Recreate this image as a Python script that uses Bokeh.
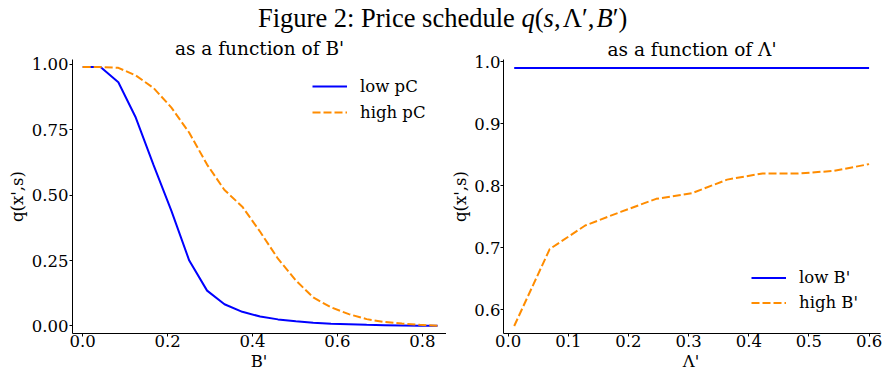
from bokeh.plotting import figure
from bokeh.layouts import column, row
from bokeh.models import Range1d, FixedTicker, PrintfTickFormatter, Div
from bokeh.embed import file_html
from bokeh.resources import INLINE

# ---------------- data ----------------
b_prime = [0.0, 0.042, 0.084, 0.125, 0.167, 0.209, 0.251, 0.293, 0.334, 0.376, 0.418,
           0.460, 0.502, 0.543, 0.585, 0.627, 0.669, 0.711, 0.752, 0.794, 0.836]
q_low_pC = [0.99, 0.99, 0.932, 0.797, 0.615, 0.44, 0.25, 0.135, 0.083, 0.054, 0.036,
            0.025, 0.018, 0.012, 0.008, 0.006, 0.004, 0.003, 0.002, 0.001, 0.0005]
q_high_pC = [0.99, 0.99, 0.987, 0.958, 0.91, 0.835, 0.739, 0.617, 0.52, 0.456, 0.36,
             0.257, 0.174, 0.109, 0.071, 0.045, 0.026, 0.015, 0.009, 0.004, 0.001]

lam_prime = [0.01, 0.069, 0.128, 0.187, 0.246, 0.305, 0.364, 0.423, 0.482, 0.541, 0.600]
q_low_B = [0.99, 0.99, 0.99, 0.99, 0.99, 0.99, 0.99, 0.99, 0.99, 0.99, 0.99]
q_high_B = [0.574, 0.698, 0.736, 0.758, 0.779, 0.788, 0.810, 0.820, 0.820, 0.824, 0.835]

left_xticks = [0.0, 0.2, 0.4, 0.6, 0.8]
left_yticks = [0.0, 0.25, 0.5, 0.75, 1.0]
right_xticks = [0.0, 0.1, 0.2, 0.3, 0.4, 0.5, 0.6]
right_yticks = [0.6, 0.7, 0.8, 0.9, 1.0]

left_xlabel = "B'"
right_xlabel = "Λ'"

# ---------------- style ----------------
SERIF = "DejaVu Serif"
TICK_FS = "16.5px"
SUB_FS = "18.5px"
BLUE = "#0000ff"
ORANGE = "#ff8c00"


def style(p, xt, yt, xfmt, yfmt, ylabel, title, title_standoff, y_lab_standoff, y_lab_pad):
    p.outline_line_color = None
    p.grid.visible = False
    p.xaxis.ticker = FixedTicker(ticks=xt)
    p.yaxis.ticker = FixedTicker(ticks=yt)
    p.xaxis.formatter = PrintfTickFormatter(format=xfmt)
    p.yaxis.formatter = PrintfTickFormatter(format=yfmt)
    for ax in (p.xaxis[0], p.yaxis[0]):
        ax.minor_tick_line_color = None
        ax.major_tick_in = 0
        ax.axis_line_color = "black"
        ax.axis_line_width = 1
        ax.major_tick_line_color = "black"
        ax.major_label_text_font = SERIF
        ax.major_label_text_font_size = TICK_FS
        ax.major_label_text_color = "black"
        ax.axis_label_text_font = SERIF
        ax.axis_label_text_font_size = TICK_FS
        ax.axis_label_text_font_style = "normal"
        ax.axis_label_text_color = "black"
    p.yaxis.axis_label = ylabel
    p.xaxis.major_tick_out = 3
    p.xaxis.major_label_standoff = -2
    p.yaxis.major_tick_out = 3
    p.yaxis.major_label_standoff = y_lab_pad
    p.yaxis.axis_label_standoff = y_lab_standoff
    p.title.text = title
    p.title.align = "center"
    p.title.text_font = SERIF
    p.title.text_font_size = SUB_FS
    p.title.text_font_style = "normal"
    p.title.text_color = "black"
    p.title.standoff = title_standoff


# ---------------- main title ----------------
title_html = (
    '<div style="position:relative;width:884px;height:34px;">'
    '<div style="position:absolute;left:258px;top:5px;white-space:nowrap;'
    "font-family:'Liberation Serif',serif;font-size:26.5px;line-height:1;color:black;\">"
    'Figure 2: Price schedule <i>q</i>(<i>s</i>,&#8202;Λ′,&#8202;<i>B</i>′)'
    '</div></div>'
)
t = Div(text=title_html, width=884, height=34, margin=0)

# ---------------- left panel ----------------
x1 = Range1d(-0.024, 0.857)
y1 = Range1d(-0.029, 1.019)
p1 = figure(width=446, height=322, x_range=x1, y_range=y1, output_backend="svg",
            toolbar_location=None, min_border_left=72, min_border_right=0,
            min_border_top=25, min_border_bottom=23)
p1.line(b_prime, q_low_pC, line_color=BLUE, line_width=2, legend_label="low pC")
p1.line(b_prime, q_high_pC, line_color=ORANGE, line_width=2, line_dash="8 3",
        legend_label="high pC")
style(p1, left_xticks, left_yticks, "%.1f", "%.2f", "q(x',s)",
      "as a function of B'", 2, 2, 1)

# ---------------- right panel ----------------
x2 = Range1d(-0.0078, 0.619)
y2 = Range1d(0.5619, 1.0037)
p2 = figure(width=438, height=322, x_range=x2, y_range=y2, output_backend="svg",
            toolbar_location=None, min_border_left=57, min_border_right=4,
            min_border_top=23, min_border_bottom=23)
p2.line(lam_prime, q_low_B, line_color=BLUE, line_width=2, legend_label="low B'")
p2.line(lam_prime, q_high_B, line_color=ORANGE, line_width=2, line_dash="8 3",
        legend_label="high B'")
style(p2, right_xticks, right_yticks, "%.1f", "%.1f", "q(x',s)",
      "as a function of Λ'", 0, 1, 0)

# ---------------- legends ----------------
for p, loc, rowh in ((p1, (240, 208), 26), (p2, (248, 18), 25)):
    lg = p.legend[0]
    lg.location = loc
    lg.border_line_color = None
    lg.background_fill_alpha = 0
    lg.padding = 0
    lg.margin = 0
    lg.spacing = 0
    lg.glyph_width = 35
    lg.glyph_height = rowh
    lg.label_height = rowh
    lg.label_standoff = 13
    lg.label_text_font = SERIF
    lg.label_text_font_size = TICK_FS
    lg.label_text_color = "black"

# ---------------- x-axis labels strip ----------------
lab_style = ("position:absolute;top:-2px;transform:translateX(-50%);white-space:nowrap;"
             "font-family:'DejaVu Serif',serif;font-size:16.5px;line-height:1;color:black;")
xlab_html = (
    '<div style="position:relative;width:884px;height:14px;">'
    f'<div style="{lab_style}left:259px;">{left_xlabel}</div>'
    f'<div style="{lab_style}left:691px;">{right_xlabel}</div>'
    '</div>'
)
xl = Div(text=xlab_html, width=884, height=14, margin=0)

layout = column(t, row(p1, p2), xl)
open("out.html", "w").write(file_html(layout, INLINE))
